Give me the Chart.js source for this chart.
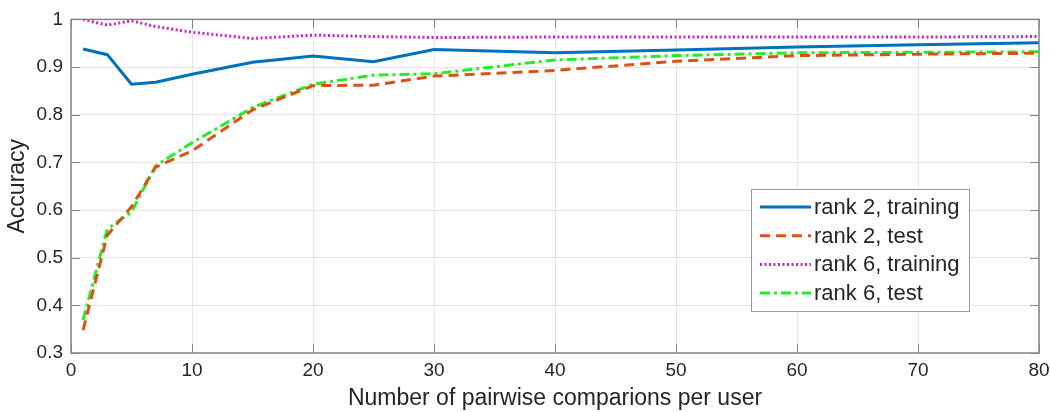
<!DOCTYPE html>
<html>
<head>
<meta charset="utf-8">
<script src="https://cdn.jsdelivr.net/npm/chart.js@4.4.1/dist/chart.umd.min.js"></script>
<style>
  html, body { margin: 0; padding: 0; background: #fff; }
</style>
</head>
<body>
<canvas id="chart" width="1050" height="412"></canvas>
<script>
// nombre de comparaisons par utilisateur
const comparaisons = [1, 3, 5, 7, 10, 15, 20, 25, 30, 40, 50, 60, 70, 80];

const rank2Training = [0.938, 0.926, 0.864, 0.868, 0.885, 0.910, 0.923, 0.911, 0.937, 0.930, 0.936, 0.942, 0.947, 0.951];
const rank2Test     = [0.348, 0.547, 0.607, 0.690, 0.724, 0.810, 0.861, 0.862, 0.881, 0.893, 0.912, 0.924, 0.927, 0.929];
const rank6Training = [1.000, 0.988, 0.997, 0.985, 0.973, 0.960, 0.967, 0.964, 0.962, 0.963, 0.963, 0.963, 0.963, 0.964];
const rank6Test     = [0.369, 0.560, 0.596, 0.693, 0.741, 0.815, 0.864, 0.883, 0.886, 0.915, 0.924, 0.930, 0.931, 0.932];

const xTicks = [0, 10, 20, 30, 40, 50, 60, 70, 80];
const yTicks = [0.3, 0.4, 0.5, 0.6, 0.7, 0.8, 0.9, 1];

const FONT = '"Liberation Sans", Arial, sans-serif';
const AXIS_COLOR = '#868686';
const TEXT_COLOR = '#262626';

function points(vals) {
  return vals.map((v, i) => ({ x: comparaisons[i], y: v }));
}

// cadre, graduations vers l'intérieur et légende façon MATLAB
const matlabStyle = {
  id: 'matlabStyle',
  afterDatasetsDraw(chart) {
    const { ctx, chartArea: a, scales } = chart;
    ctx.save();
    ctx.strokeStyle = AXIS_COLOR;
    ctx.lineWidth = 1;
    ctx.beginPath();
    xTicks.forEach(t => {
      const px = Math.round(scales.x.getPixelForValue(t)) + 0.5;
      ctx.moveTo(px, a.bottom); ctx.lineTo(px, a.bottom - 9);
      ctx.moveTo(px, a.top); ctx.lineTo(px, a.top + 9);
    });
    yTicks.forEach(t => {
      const py = Math.round(scales.y.getPixelForValue(t)) + 0.5;
      ctx.moveTo(a.left, py); ctx.lineTo(a.left + 9, py);
      ctx.moveTo(a.right, py); ctx.lineTo(a.right - 9, py);
    });
    ctx.stroke();
    ctx.lineWidth = 1.5;
    ctx.strokeRect(a.left, a.top, a.right - a.left, a.bottom - a.top);

    // légende
    const lx = 751, ly = 189, lw = 218, lh = 122;
    ctx.fillStyle = '#fff';
    ctx.fillRect(lx, ly, lw, lh);
    ctx.strokeStyle = '#9a9a9a';
    ctx.lineWidth = 1;
    ctx.strokeRect(lx + 0.5, ly + 0.5, lw, lh);
    ctx.font = '22px ' + FONT;
    ctx.textBaseline = 'middle';
    chart.data.datasets.forEach((ds, i) => {
      const cy = ly + 18 + i * 28.7;
      ctx.strokeStyle = ds.borderColor;
      ctx.lineWidth = ds.borderWidth;
      ctx.setLineDash(ds.borderDash || []);
      ctx.beginPath();
      ctx.moveTo(lx + 9, cy); ctx.lineTo(lx + 60, cy);
      ctx.stroke();
      ctx.setLineDash([]);
      ctx.fillStyle = TEXT_COLOR;
      ctx.fillText(ds.label, lx + 63, cy + 1);
    });
    ctx.restore();
  }
};

const ctx = document.getElementById('chart').getContext('2d');
new Chart(ctx, {
  type: 'line',
  data: {
    datasets: [
      { label: 'rank 2, training', data: points(rank2Training), borderColor: '#0072BD', borderWidth: 3, borderDash: [] },
      { label: 'rank 2, test', data: points(rank2Test), borderColor: '#D95319', borderWidth: 3, borderDash: [10, 6] },
      { label: 'rank 6, training', data: points(rank6Training), borderColor: '#cc22cc', borderWidth: 3, borderDash: [2, 2.5] },
      { label: 'rank 6, test', data: points(rank6Test), borderColor: '#22ee22', borderWidth: 3, borderDash: [10, 4, 3, 4] }
    ]
  },
  options: {
    responsive: false,
    animation: false,
    devicePixelRatio: 1,
    layout: { padding: { top: 15, right: 0, left: 0, bottom: 0 } },
    elements: { point: { radius: 0 }, line: { tension: 0 } },
    plugins: { legend: { display: false }, tooltip: { enabled: false } },
    scales: {
      x: {
        type: 'linear', min: 0, max: 80,
        afterFit: s => { s.height = 59; s.paddingRight = 11; },
        afterBuildTicks: s => { s.ticks = xTicks.map(v => ({ value: v })); },
        grid: { color: '#e6e6e6', drawTicks: false },
        border: { display: false },
        ticks: { color: TEXT_COLOR, font: { family: FONT, size: 19 }, padding: 6, maxRotation: 0 },
        title: { display: true, text: 'Number of pairwise comparions per user', color: TEXT_COLOR, font: { family: FONT, size: 23 }, padding: { top: 0, bottom: 0 } }
      },
      y: {
        type: 'linear', min: 0.3, max: 1,
        afterFit: s => { s.width = 71; },
        afterBuildTicks: s => { s.ticks = yTicks.map(v => ({ value: v })); },
        grid: { color: '#e6e6e6', drawTicks: false },
        border: { display: false },
        ticks: { color: TEXT_COLOR, font: { family: FONT, size: 19 }, padding: 8,
          callback: v => (Math.round(v * 10) / 10).toString() },
        title: { display: true, text: 'Accuracy', color: TEXT_COLOR, font: { family: FONT, size: 23 }, padding: { top: 4, bottom: 0 } }
      }
    }
  },
  plugins: [matlabStyle]
});
</script>
</body>
</html>
